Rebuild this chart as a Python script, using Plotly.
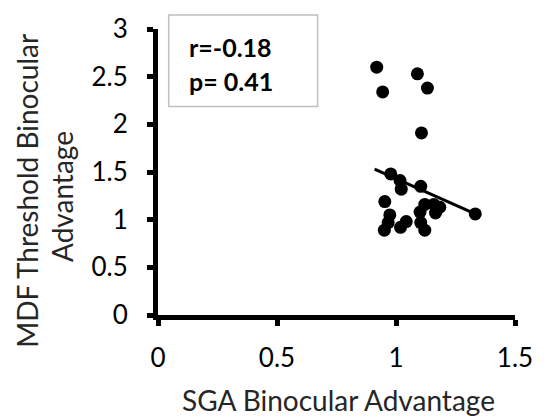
import plotly.graph_objects as go

sga = [0.919, 1.090, 0.944, 1.132, 1.107, 0.978, 1.017, 1.022, 1.104, 0.953, 1.121, 1.101,
       1.159, 1.184, 1.166, 1.333, 0.974, 0.967, 0.951, 1.043, 1.019, 1.104, 1.121]
mdf = [2.60, 2.53, 2.34, 2.38, 1.91, 1.48, 1.41, 1.32, 1.35, 1.19, 1.16, 1.08,
       1.16, 1.13, 1.07, 1.06, 1.05, 0.97, 0.89, 0.98, 0.92, 0.97, 0.89]
trend_x = [0.91, 1.333]
trend_y = [1.53, 1.06]
x_ticks = [0, 0.5, 1, 1.5]
x_labels = ["0", "0.5", "1", "1.5"]
y_ticks = [0, 0.5, 1, 1.5, 2, 2.5, 3]
y_labels = ["0", "0.5", "1", "1.5", "2", "2.5", "3"]
stats_lines = ["r=-0.18", "p= 0.41"]

FONT = "Lato"
fig = go.Figure()
fig.add_trace(go.Scatter(x=sga, y=mdf, mode="markers",
                         marker=dict(size=13, color="black"), cliponaxis=False))
fig.add_trace(go.Scatter(x=trend_x, y=trend_y, mode="lines",
                         line=dict(color="black", width=3)))

axis_common = dict(showline=True, linewidth=5, linecolor="black", ticks="outside",
                   ticklen=6, tickwidth=5, tickcolor="black", showgrid=False,
                   zeroline=False, tickfont=dict(family=FONT, size=26, color="black"))
fig.update_xaxes(range=[0, 1.5], tickvals=x_ticks, ticktext=x_labels,
                 ticklabelstandoff=10, **axis_common)
fig.update_yaxes(range=[0, 3], tickvals=y_ticks, ticktext=y_labels,
                 ticklabelstandoff=14, **axis_common)

fig.add_shape(type="rect", xref="paper", yref="paper", x0=0.030, x1=0.447, y0=0.729, y1=1.049,
              line=dict(color="#bfbfbf", width=1.5), fillcolor="white", layer="above")
for i, t in enumerate(stats_lines):
    fig.add_annotation(xref="paper", yref="paper", x=0.080, y=(315 - (45 + 34 * i)) / 288,
                       xanchor="left", yanchor="middle", text="<b>" + t + "</b>",
                       showarrow=False, font=dict(family=FONT, size=25, color="black"))

fig.add_annotation(xref="paper", yref="paper", x=(343 - 158) / 365, y=(315 - 401) / 288,
                   text="SGA Binocular Advantage", showarrow=False, xanchor="center",
                   yanchor="middle", font=dict(family=FONT, size=28, color="#262626"))
fig.add_annotation(xref="paper", yref="paper", x=(24 - 158) / 365, y=(315 - 190) / 288,
                   text="MDF Threshold Binocular", showarrow=False, textangle=-90,
                   xanchor="center", yanchor="middle",
                   font=dict(family=FONT, size=28, color="#262626"))
fig.add_annotation(xref="paper", yref="paper", x=(60 - 158) / 365, y=(315 - 196) / 288,
                   text="Advantage", showarrow=False, textangle=-90,
                   xanchor="center", yanchor="middle",
                   font=dict(family=FONT, size=28, color="#262626"))

fig.update_layout(width=545, height=417, margin=dict(l=158, r=22, t=27, b=102),
                  paper_bgcolor="white", plot_bgcolor="white", showlegend=False)
fig.write_html("out.html")
